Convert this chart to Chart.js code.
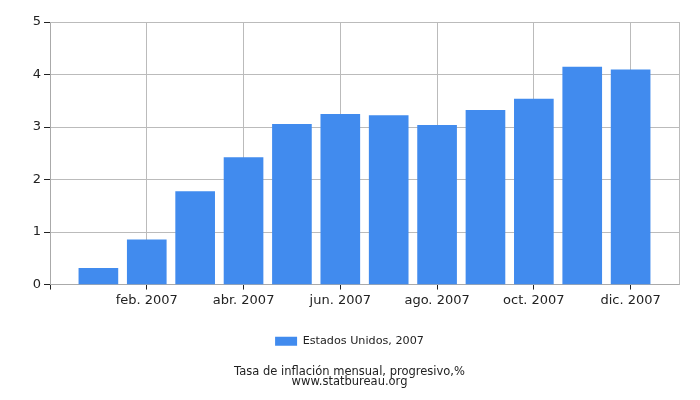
<!DOCTYPE html>
<html>
<head>
<meta charset="utf-8">
<script src="https://cdn.jsdelivr.net/npm/chart.js@4"></script>
<style>
  html, body { margin: 0; padding: 0; background: #fff; }
  #wrap { width: 700px; height: 400px; }
</style>
</head>
<body>
<div id="wrap"><canvas id="inflChart"></canvas></div>
<script>
// months 1..12 of 2007
var months = [1, 2, 3, 4, 5, 6, 7, 8, 9, 10, 11, 12];
var inflation = [0.31, 0.85, 1.77, 2.42, 3.05, 3.24, 3.22, 3.03, 3.32, 3.53, 4.14, 4.09];
var tickPositions = [0, 2, 4, 6, 8, 10, 12];
var tickLabels = ["", "feb. 2007", "abr. 2007", "jun. 2007", "ago. 2007", "oct. 2007", "dic. 2007"];
var seriesName = "Estados Unidos, 2007";
var titleLines = ["Tasa de inflación mensual, progresivo,%", "www.statbureau.org"];

var points = [];
months.forEach(function(m, i) {
    points.push({ x: m, y: inflation[i] });
});

Chart.defaults.font.family = "'DejaVu Sans', Verdana, sans-serif";
Chart.defaults.color = "#222";

var ctx = document.getElementById("inflChart");
var inflChart = new Chart(ctx, {
    type: "bar",
    data: {
        datasets: [
            {
                label: seriesName,
                data: points,
                backgroundColor: "#418bee",
                borderWidth: 0,
                barThickness: 39
            }
        ]
    },
    options: {
        responsive: true,
        maintainAspectRatio: false,
        animation: false,
        layout: { padding: { top: 22, right: 1, left: 0, bottom: 13 } },
        scales: {
            x: {
                type: "linear",
                min: 0,
                max: 13,
                offset: false,
                afterBuildTicks: function(scale) {
                    scale.ticks = tickPositions.map(function(v) { return { value: v }; });
                },
                afterFit: function(scale) { scale.height = 41; },
                ticks: {
                    autoSkip: false,
                    maxRotation: 0,
                    font: { size: 13 },
                    color: "#222",
                    padding: 3,
                    callback: function(value) {
                        var idx = tickPositions.indexOf(value);
                        return idx >= 0 ? tickLabels[idx] : "";
                    }
                },
                grid: {
                    offset: false,
                    color: "#bbbbbb",
                    tickColor: "#222",
                    tickLength: 5,
                    drawTicks: true
                },
                border: { color: "#aaaaaa" }
            },
            y: {
                min: 0,
                max: 5,
                afterFit: function(scale) { scale.width = 50; },
                ticks: {
                    stepSize: 1,
                    font: { size: 13 },
                    color: "#222",
                    padding: 3
                },
                grid: {
                    color: "#bbbbbb",
                    tickColor: "#222",
                    tickLength: 6
                },
                border: { color: "#aaaaaa" }
            },
            // empty right margin so legend and title stay centred on the canvas
            yRight: {
                position: "right",
                min: 0,
                max: 5,
                afterFit: function(scale) { scale.width = 20; },
                ticks: { display: false },
                grid: { display: false },
                border: { display: false }
            }
        },
        plugins: {
            legend: {
                position: "bottom",
                labels: {
                    boxWidth: 22,
                    boxHeight: 9,
                    font: { size: 11.2 },
                    color: "#222",
                    padding: 10
                }
            },
            title: {
                display: true,
                position: "bottom",
                text: titleLines,
                color: "#222",
                font: { size: 11.5, weight: "normal", lineHeight: 0.88 },
                padding: { top: 10, bottom: 0 }
            },
            tooltip: { enabled: false }
        }
    },
    plugins: [{
        id: "rightBorder",
        afterDraw: function(chart) {
            var a = chart.chartArea, c = chart.ctx;
            c.save();
            c.strokeStyle = "#bbbbbb";
            c.lineWidth = 1;
            c.beginPath();
            c.moveTo(a.right + 0.5, a.top);
            c.lineTo(a.right + 0.5, a.bottom);
            c.moveTo(a.left, a.top + 0.5);
            c.lineTo(a.right, a.top + 0.5);
            c.stroke();
            c.restore();
        }
    }]
});
</script>
</body>
</html>
